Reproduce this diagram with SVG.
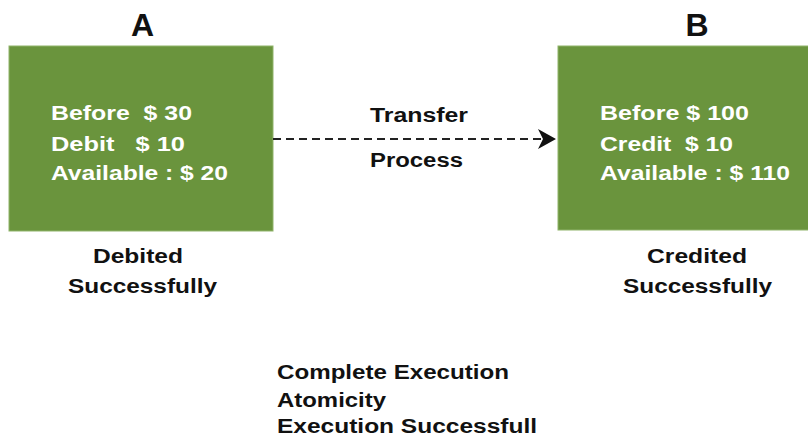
<svg xmlns="http://www.w3.org/2000/svg" width="808" height="436" viewBox="0 0 808 436">
<defs>
<style>
.box{fill:#6a943d;stroke:#8fb36a;stroke-width:1}
.title{font-family:"Liberation Sans",Arial,sans-serif;font-weight:bold;font-size:32px;fill:#111;text-anchor:middle}
.in{font-family:"Liberation Sans",Arial,sans-serif;font-weight:bold;font-size:20px;fill:#fff}
.lbl{font-family:"Liberation Sans",Arial,sans-serif;font-weight:bold;font-size:20px;fill:#111}
.conn{stroke:#222;stroke-width:2;stroke-dasharray:8 5;fill:none}
</style>
<marker id="arr" viewBox="0 0 20 20" refX="18" refY="10" markerWidth="20" markerHeight="20" markerUnits="userSpaceOnUse" orient="auto">
<path d="M0,0 L18,10 L0,20 L5,10 Z" fill="#111"/>
</marker>
</defs>
<rect width="808" height="436" fill="#fff"/>
<g id="nodeA">
<text class="title" x="142.5" y="36">A</text>
<rect class="box" x="9" y="46" width="264" height="185"/>
<text class="in" x="51" y="120" textLength="141" lengthAdjust="spacingAndGlyphs" xml:space="preserve">Before  $ 30</text>
<text class="in" x="51" y="151" textLength="134" lengthAdjust="spacingAndGlyphs" xml:space="preserve">Debit   $ 10</text>
<text class="in" x="51" y="180" textLength="177" lengthAdjust="spacingAndGlyphs">Available : $ 20</text>
<text class="lbl" x="93" y="263" textLength="90" lengthAdjust="spacingAndGlyphs">Debited</text>
<text class="lbl" x="68" y="293" textLength="149" lengthAdjust="spacingAndGlyphs">Successfully</text>
</g>
<g id="nodeB">
<text class="title" x="697" y="36">B</text>
<rect class="box" x="558" y="46" width="252" height="184"/>
<text class="in" x="600" y="120" textLength="149" lengthAdjust="spacingAndGlyphs">Before $ 100</text>
<text class="in" x="600" y="151" textLength="133" lengthAdjust="spacingAndGlyphs" xml:space="preserve">Credit  $ 10</text>
<text class="in" x="600" y="180" textLength="190" lengthAdjust="spacingAndGlyphs">Available : $ 110</text>
<text class="lbl" x="647" y="263" textLength="100" lengthAdjust="spacingAndGlyphs">Credited</text>
<text class="lbl" x="623" y="293" textLength="149" lengthAdjust="spacingAndGlyphs">Successfully</text>
</g>
<g id="connectors">
<path class="conn" d="M273,139 H556" marker-end="url(#arr)"/>
<text class="lbl" x="370" y="122" textLength="98" lengthAdjust="spacingAndGlyphs">Transfer</text>
<text class="lbl" x="370" y="167" textLength="93" lengthAdjust="spacingAndGlyphs">Process</text>
</g>
<g id="notes">
<text class="lbl" x="277" y="379" textLength="232" lengthAdjust="spacingAndGlyphs">Complete Execution</text>
<text class="lbl" x="277" y="407" textLength="109" lengthAdjust="spacingAndGlyphs">Atomicity</text>
<text class="lbl" x="277" y="433" textLength="260" lengthAdjust="spacingAndGlyphs">Execution Successfull</text>
</g>
</svg>
